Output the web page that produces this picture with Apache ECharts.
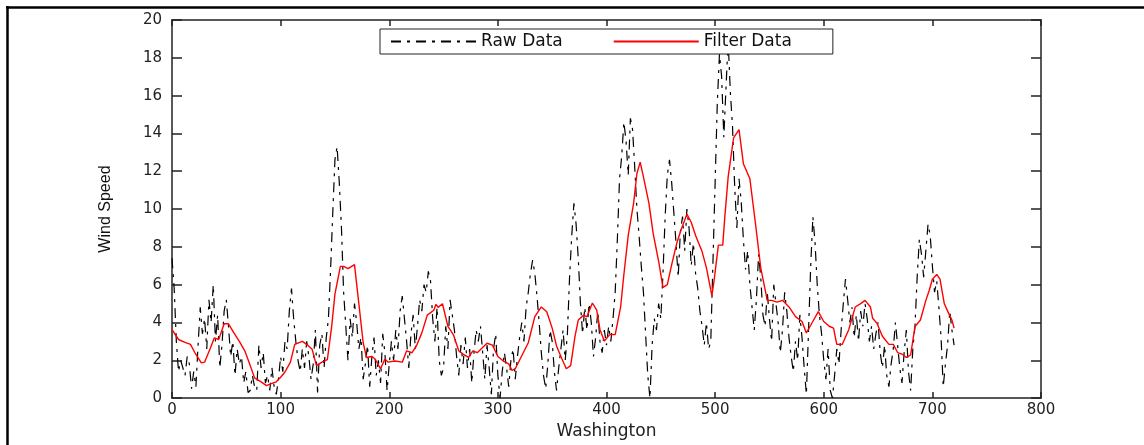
<!DOCTYPE html>
<html>
<head>
<meta charset="utf-8">
<script src="https://cdn.jsdelivr.net/npm/echarts@6/dist/echarts.min.js"></script>
<style>
html,body{margin:0;padding:0;background:#fff;}
#chart{width:1144px;height:445px;}
</style>
</head>
<body>
<div id="chart"></div>
<script>
// Raw wind speed samples, one every 2 units starting at 0
const rawStep = 2;
const rawValues = [
 7.4,5.8,3.0,1.4,2.0,1.6,1.2,2.2,1.8,0.5,
 1.4,0.6,2.8,4.8,3.4,4.2,2.6,5.2,4.0,6.0,
 3.0,4.4,1.6,2.8,4.6,5.2,3.8,2.2,3.0,1.2,
 2.6,1.8,2.2,0.8,1.4,0.3,0.4,1.2,0.6,0.4,
 2.8,1.6,2.4,0.8,1.2,0.4,1.6,0.6,0.2,1.0,
 2.2,1.4,3.0,2.6,4.6,5.8,4.2,3.0,2.0,1.4,
 2.6,1.6,3.0,2.2,1.0,1.8,3.6,0.3,2.8,3.4,
 1.6,3.2,4.2,6.8,9.8,12.6,13.3,11.4,9.0,5.6,
 3.8,2.0,4.2,3.2,5.0,4.0,2.6,3.2,1.0,1.8,
 2.8,0.6,2.2,3.2,1.2,2.0,0.8,3.4,2.4,0.4,
 1.8,3.0,2.0,3.6,2.6,4.6,5.4,4.2,3.0,1.6,
 3.4,4.4,2.6,3.8,5.2,4.6,6.0,5.6,6.7,6.2,
 4.2,3.0,4.8,2.0,1.2,1.6,3.8,2.6,5.2,4.4,
 3.6,2.2,1.2,2.8,1.8,3.2,1.6,2.6,0.8,2.4,
 3.6,3.0,3.8,2.4,1.0,2.8,1.6,0.2,2.6,3.4,
 1.2,0.0,1.4,2.4,1.6,0.6,2.0,2.6,1.0,2.2,
 3.2,4.0,3.0,4.8,5.6,6.6,7.3,6.6,5.4,4.0,
 2.4,1.2,0.5,1.8,3.6,3.0,1.4,0.4,1.6,2.6,
 3.6,2.0,3.4,6.4,8.6,10.3,9.2,7.4,5.0,3.4,
 4.8,3.6,5.0,4.0,2.2,3.2,4.6,3.0,2.4,3.6,
 2.8,3.8,3.0,4.2,5.6,8.4,11.6,12.8,14.6,13.6,
 11.8,14.8,14.2,12.2,10.0,8.6,7.0,5.6,3.4,1.2,
 0.0,2.8,4.2,3.6,5.0,4.2,6.6,9.6,11.8,12.6,
 11.4,9.8,8.2,6.4,8.8,9.6,7.8,10.0,9.0,7.0,
 8.2,6.6,5.8,4.6,3.8,2.8,4.0,2.6,3.0,7.2,
 11.4,15.6,18.2,17.0,13.8,16.4,18.9,16.2,14.4,11.2,
 9.0,11.6,10.4,8.4,6.8,7.8,6.0,4.8,3.6,5.2,
 7.6,6.4,4.4,3.8,5.6,4.2,3.0,6.0,5.0,4.0,
 2.4,3.6,5.6,4.6,3.2,2.2,1.4,3.0,2.0,4.4,
 3.2,1.6,0.2,3.6,7.0,9.6,8.2,6.0,4.4,3.4,
 2.0,1.0,2.6,0.4,0.0,1.2,2.6,1.8,3.6,5.0,
 6.3,5.2,4.0,4.8,3.2,4.4,3.0,4.6,3.8,5.0,
 4.2,3.0,3.8,2.6,3.4,4.0,2.4,1.6,2.8,1.2,
 0.6,1.8,2.6,4.0,2.8,1.6,0.8,2.4,3.6,1.4,
 0.4,2.6,3.8,6.4,8.4,7.6,6.4,7.8,9.2,8.6,
 7.0,5.6,6.2,4.8,3.2,0.6,1.8,2.8,4.6,3.6,
 2.8
];

// Filtered series
const filterX = [0,6,12,17,21,27,30,35,39,43,48,52,57,62,67,72,76,81,87,92,96,100,104,109,113,120,125,129,133,138,143,147,150,155,158,162,168,172,176,179,184,187,192,196,199,205,212,216,221,225,230,235,241,243,245,249,254,259,264,268,273,277,281,285,290,295,300,305,310,313,316,322,328,334,340,345,350,354,359,363,367,371,374,379,382,387,391,394,398,403,408,413,416,420,425,428,431,434,439,443,448,452,456,460,465,469,474,478,482,488,492,497,499,503,507,509,512,517,522,526,532,537,542,548,552,557,562,568,574,580,584,589,595,600,605,609,612,617,623,629,634,638,643,645,649,654,660,664,668,672,676,680,684,689,694,697,700,704,707,711,715,718,720];
const filterY = [3.62,3.10,2.95,2.84,2.41,1.86,1.90,2.60,3.19,3.10,3.93,3.93,3.45,3.00,2.50,1.72,1.07,0.90,0.66,0.78,0.86,1.10,1.38,1.90,2.84,3.00,2.80,2.58,1.72,1.90,2.03,3.79,5.50,6.97,6.97,6.85,7.06,5.00,2.93,2.15,2.20,2.07,1.55,2.07,1.90,1.96,1.90,2.50,2.40,2.76,3.45,4.39,4.65,4.96,4.80,4.99,3.79,3.36,2.50,2.33,2.15,2.50,2.40,2.62,2.90,2.80,2.20,1.96,1.81,1.47,1.55,2.24,2.93,4.31,4.82,4.57,3.70,2.76,2.07,1.55,1.72,3.27,4.13,4.39,4.30,5.03,4.65,3.62,3.02,3.36,3.36,4.82,6.54,8.61,10.33,11.88,12.48,11.70,10.33,8.70,7.23,5.86,6.00,7.06,8.26,8.96,9.73,9.30,8.60,7.75,6.89,5.42,6.20,8.09,8.09,9.64,11.70,13.77,14.20,12.40,11.60,9.30,6.89,5.17,5.17,5.08,5.17,4.82,4.31,4.05,3.45,3.96,4.57,4.05,3.80,3.70,2.84,2.84,3.62,4.82,5.00,5.17,4.82,4.22,3.96,3.27,2.84,2.84,2.41,2.33,2.15,2.28,3.79,4.13,5.17,5.68,6.29,6.54,6.29,4.99,4.48,4.13,3.70];

const xTicks = {min: 0, max: 800, interval: 100};
const yTicks = {min: 0, max: 20, interval: 2};
const seriesNames = ['Raw Data', 'Filter Data'];
const xName = 'Washington';
const yName = 'Wind Speed';

const rawData = rawValues.map((v, i) => [i * rawStep, v]);
const filterData = filterX.map((x, i) => [x, filterY[i]]);

const labelFont = {fontFamily: 'DejaVu Sans', fontSize: 15, color: '#222'};
const axisLineStyle = {color: '#222', width: 1.5};

const chart = echarts.init(document.getElementById('chart'), null, {renderer: 'canvas'});
chart.setOption({
  animation: false,
  backgroundColor: '#ffffff',
  grid: {left: 172, right: 103, top: 20, bottom: 38, containLabel: false},
  legend: {
    left: 380, top: 29,
    padding: [4, 41, 4, 10],
    itemWidth: 85, itemHeight: 12, itemGap: 50,
    borderColor: '#222', borderWidth: 1, borderRadius: 0,
    backgroundColor: '#fff',
    data: seriesNames,
    itemStyle: {opacity: 0},
    textStyle: {fontFamily: 'DejaVu Sans', fontSize: 17, color: '#111'}
  },
  xAxis: [{
    type: 'value', min: xTicks.min, max: xTicks.max, interval: xTicks.interval,
    name: xName, nameLocation: 'middle', nameGap: 23,
    nameTextStyle: {fontFamily: 'DejaVu Sans', fontSize: 17, color: '#222'},
    axisLine: {show: true, onZero: false, lineStyle: axisLineStyle},
    axisTick: {show: true, inside: true, length: 6, lineStyle: axisLineStyle},
    axisLabel: Object.assign({margin: 5}, labelFont),
    splitLine: {show: false}
  }, {
    type: 'value', position: 'top', min: xTicks.min, max: xTicks.max, interval: xTicks.interval,
    axisLine: {show: true, onZero: false, lineStyle: axisLineStyle},
    axisTick: {show: true, inside: true, length: 6, lineStyle: axisLineStyle},
    axisLabel: {show: false}, splitLine: {show: false}
  }],
  yAxis: [{
    type: 'value', min: yTicks.min, max: yTicks.max, interval: yTicks.interval,
    name: yName, nameLocation: 'middle', nameGap: 58, nameRotate: 90,
    nameTextStyle: {fontFamily: "'Liberation Sans Narrow', 'Liberation Sans', sans-serif", fontSize: 16, color: '#111'},
    axisLine: {show: true, onZero: false, lineStyle: axisLineStyle},
    axisTick: {show: true, inside: true, length: 10, lineStyle: axisLineStyle},
    axisLabel: Object.assign({margin: 10}, labelFont),
    splitLine: {show: false}
  }, {
    type: 'value', position: 'right', min: yTicks.min, max: yTicks.max, interval: yTicks.interval,
    axisLine: {show: true, onZero: false, lineStyle: axisLineStyle},
    axisTick: {show: true, inside: true, length: 10, lineStyle: axisLineStyle},
    axisLabel: {show: false}, splitLine: {show: false}
  }],
  series: [{
    name: seriesNames[0], type: 'line', data: rawData, xAxisIndex: 0, yAxisIndex: 0,
    symbol: 'none', z: 2,
    lineStyle: {color: '#000', width: 1.2, type: [10, 6, 3, 6]},
    itemStyle: {color: '#000'}
  }, {
    name: seriesNames[1], type: 'line', data: filterData, xAxisIndex: 0, yAxisIndex: 0,
    symbol: 'none', z: 3,
    lineStyle: {color: '#ff0000', width: 1.4},
    itemStyle: {color: '#ff0000'}
  }],
  graphic: [
    {type: 'line', shape: {x1: 6, y1: 7.5, x2: 1144, y2: 7.5}, style: {stroke: '#000', lineWidth: 2.5}},
    {type: 'line', shape: {x1: 7.5, y1: 6, x2: 7.5, y2: 445}, style: {stroke: '#000', lineWidth: 2.5}}
  ]
});
</script>
</body>
</html>
